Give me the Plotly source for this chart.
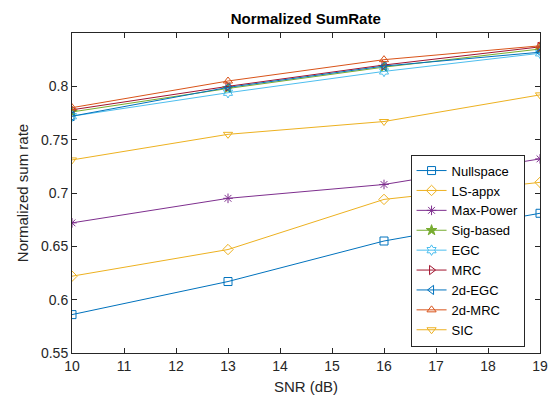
import plotly.graph_objects as go

snr = [10, 13, 16, 19]
names = ["Nullspace", "LS-appx", "Max-Power", "Sig-based", "EGC", "MRC", "2d-EGC", "2d-MRC", "SIC"]
nullspace = [0.586, 0.617, 0.655, 0.681]
ls_appx = [0.622, 0.647, 0.694, 0.710]
max_power = [0.672, 0.695, 0.708, 0.732]
sig_based = [0.776, 0.798, 0.818, 0.835]
egc = [0.772, 0.794, 0.814, 0.831]
mrc = [0.778, 0.800, 0.820, 0.837]
egc_2d = [0.772, 0.799, 0.819, 0.832]
mrc_2d = [0.780, 0.805, 0.825, 0.838]
sic = [0.731, 0.755, 0.767, 0.792]

series = [nullspace, ls_appx, max_power, sig_based, egc, mrc, egc_2d, mrc_2d, sic]
colors = ["#0072BD", "#EDB120", "#7E2F8E", "#77AC30", "#4DBEEE", "#A2142F", "#0072BD", "#D95319", "#EDB120"]
symbols = ["square-open", "diamond-open", "asterisk-open", "star", "hexagram-open",
           "triangle-right-open", "triangle-left-open", "triangle-up-open", "triangle-down-open"]

fig = go.Figure()
for n, s, c, m in zip(names, series, colors, symbols):
    fig.add_trace(go.Scatter(
        x=snr, y=s, name=n, mode="lines+markers",
        line=dict(color=c, width=1),
        marker=dict(symbol=m, size=8, color=c, line=dict(color=c, width=1)),
    ))

axis_common = dict(
    showgrid=False, zeroline=False, showline=True, linecolor="#262626", linewidth=1,
    mirror="ticks", ticks="inside", ticklen=5, tickcolor="#262626", automargin=False,
    tickfont=dict(size=14, color="#262626", family="Liberation Sans, Arial"),
)
fig.update_layout(
    width=548, height=407,
    margin=dict(l=72, r=8, t=33, b=54),
    paper_bgcolor="white", plot_bgcolor="white",
    title=dict(text="<b>Normalized SumRate</b>", x=0.558, xanchor="center", y=0.955, yanchor="middle",
               font=dict(size=15, color="black", family="Liberation Sans, Arial")),
    xaxis=dict(range=[10, 19], tickvals=list(range(10, 20)),
               title=dict(text="SNR (dB)", standoff=8, font=dict(size=15, color="#262626", family="Liberation Sans, Arial")),
               **axis_common),
    yaxis=dict(range=[0.55, 0.85], tickvals=[0.55, 0.6, 0.65, 0.7, 0.75, 0.8],
               ticktext=["0.55", "0.6", "0.65", "0.7", "0.75", "0.8"],
               title=dict(text="Normalized sum rate", standoff=8, font=dict(size=15, color="#262626", family="Liberation Sans, Arial")),
               **axis_common),
    legend=dict(x=0.967, y=0.02, xanchor="right", yanchor="bottom",
                bgcolor="white", bordercolor="#262626", borderwidth=1,
                font=dict(size=13, color="black", family="Liberation Sans, Arial"),
                tracegroupgap=0, itemwidth=30),
    showlegend=True,
)
fig.write_html("out.html")
